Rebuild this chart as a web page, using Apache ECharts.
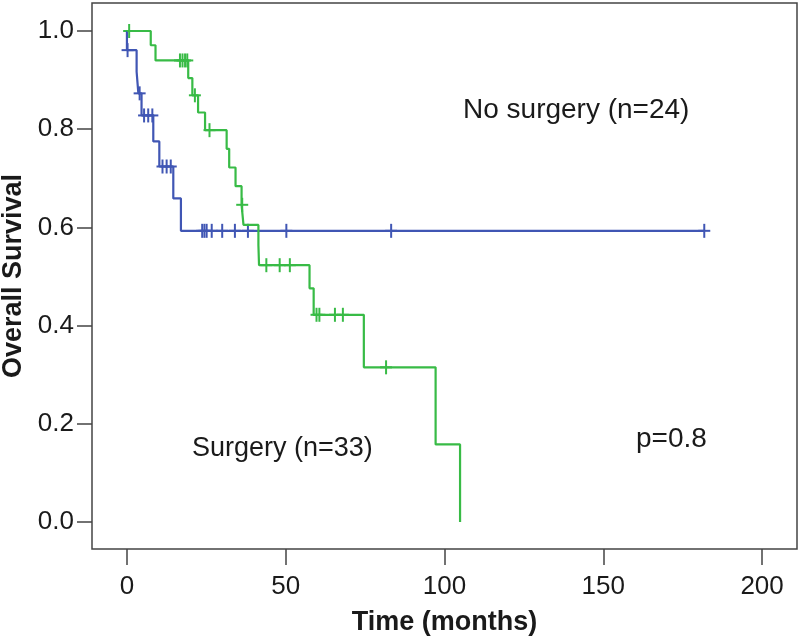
<!DOCTYPE html>
<html>
<head>
<meta charset="utf-8">
<script src="https://cdn.jsdelivr.net/npm/echarts@6/dist/echarts.min.js"></script>
<style>
html,body{margin:0;padding:0;background:#fff;}
#chart{width:800px;height:641px;}
</style>
</head>
<body>
<div id="chart"></div>
<script>
// ---- Data ----
var xTicks = [0, 50, 100, 150, 200];
var yTicks = [0, 0.2, 0.4, 0.6, 0.8, 1.0];

// Blue curve: No surgery (n=24) – event times (months) and survival after each step
var blueTimes = [0, 0, 3.05, 3.6, 4.6, 8.3, 10.2, 14.6, 17.0, 182.0];
var blueSurv  = [1.0, 0.961, 0.917, 0.873, 0.828, 0.775, 0.724, 0.659, 0.593, 0.593];
// Blue censored observations
var blueCensorTimes = [0.2, 4.0, 5.4, 6.7, 8.0, 11.2, 12.5, 13.8, 23.7, 24.4, 25.1, 26.7, 30.0, 34.0, 38.1, 50.2, 83.2, 181.8];
var blueCensorSurv  = [0.961, 0.873, 0.828, 0.828, 0.828, 0.724, 0.724, 0.724, 0.593, 0.593, 0.593, 0.593, 0.593, 0.593, 0.593, 0.593, 0.593, 0.593];

// Green curve: Surgery (n=33)
var greenTimes = [0, 7.5, 9.0, 19.3, 20.6, 22.4, 24.6, 31.4, 32.2, 34.2, 36.1, 36.7, 41.4, 41.6, 57.5, 58.8, 74.6, 97.2, 104.9];
var greenSurv  = [1.0, 0.971, 0.940, 0.904, 0.869, 0.834, 0.798, 0.760, 0.722, 0.684, 0.646, 0.605, 0.564, 0.523, 0.476, 0.422, 0.315, 0.158, 0.0];
// Green censored observations
var greenCensorTimes = [0.7, 16.7, 17.5, 18.3, 19.0, 21.4, 26.0, 36.3, 43.9, 48.1, 51.3, 59.7, 60.6, 65.5, 68.0, 81.6];
var greenCensorSurv  = [1.0, 0.940, 0.940, 0.940, 0.940, 0.869, 0.798, 0.646, 0.523, 0.523, 0.523, 0.422, 0.422, 0.422, 0.422, 0.315];

var labelNoSurgery = 'No surgery (n=24)';
var labelSurgery = 'Surgery (n=33)';
var labelP = 'p=0.8';

// ---- Build chart ----
var FONT = "'Liberation Sans', Arial, sans-serif";
var BLUE = '#4056b4';
var GREEN = '#38bb46';
var AXIS = '#444';
var TEXT = '#1a1a1a';

function zip(a, b) { return a.map(function (v, i) { return [v, b[i]]; }); }

function censorRenderer(color) {
  return function (params, api) {
    var p = api.coord([api.value(0), api.value(1)]);
    return {
      type: 'group',
      children: [
        { type: 'line', shape: { x1: p[0], y1: p[1] - 7, x2: p[0], y2: p[1] + 7 }, style: { stroke: color, lineWidth: 2 } },
        { type: 'line', shape: { x1: p[0] - 6, y1: p[1], x2: p[0] + 6, y2: p[1] }, style: { stroke: color, lineWidth: 2 } }
      ]
    };
  };
}

var chart = echarts.init(document.getElementById('chart'), null, { renderer: 'canvas' });
chart.setOption({
  animation: false,
  backgroundColor: '#fff',
  textStyle: { fontFamily: FONT },
  grid: { left: 92, right: 3, top: 3, bottom: 92, containLabel: false, outerBoundsMode: 'none',
          show: true, borderColor: AXIS, borderWidth: 1.5, backgroundColor: 'transparent' },
  xAxis: {
    type: 'value', min: -11, max: 211,
    axisLine: { show: false, onZero: false },
    splitLine: { show: false },
    axisTick: { show: true, inside: false, length: 16, customValues: xTicks, lineStyle: { color: AXIS, width: 1.5 } },
    axisLabel: { customValues: xTicks, fontSize: 26, color: TEXT, margin: 25, fontFamily: FONT },
    name: 'Time (months)', nameLocation: 'middle', nameGap: 60,
    nameTextStyle: { fontSize: 27, fontWeight: 'bold', color: TEXT, fontFamily: FONT }
  },
  yAxis: {
    type: 'value', min: -0.055, max: 1.057,
    axisLine: { show: false, onZero: false },
    splitLine: { show: false },
    axisTick: { show: true, inside: false, length: 15, customValues: yTicks, lineStyle: { color: AXIS, width: 1.5 } },
    axisLabel: { customValues: yTicks, fontSize: 26, color: TEXT, margin: 18, fontFamily: FONT,
      formatter: function (v) { return Number(v).toFixed(1); } },
    name: 'Overall Survival', nameLocation: 'middle', nameGap: 58, nameRotate: 90,
    nameTextStyle: { fontSize: 27, fontWeight: 'bold', color: TEXT, fontFamily: FONT }
  },
  series: [
    { type: 'line', step: 'end', data: zip(blueTimes, blueSurv), symbol: 'none', lineStyle: { color: BLUE, width: 2.2 }, itemStyle: { color: BLUE }, silent: true },
    { type: 'line', step: 'end', data: zip(greenTimes, greenSurv), symbol: 'none', lineStyle: { color: GREEN, width: 2.2 }, itemStyle: { color: GREEN }, silent: true },
    { type: 'custom', data: zip(blueCensorTimes, blueCensorSurv), renderItem: censorRenderer(BLUE), silent: true },
    { type: 'custom', data: zip(greenCensorTimes, greenCensorSurv), renderItem: censorRenderer(GREEN), silent: true }
  ],
  graphic: [
    { type: 'text', left: 463, top: 96, style: { text: labelNoSurgery, font: '28px ' + FONT, fill: TEXT } },
    { type: 'text', left: 192, top: 435, style: { text: labelSurgery, font: '27px ' + FONT, fill: TEXT } },
    { type: 'text', left: 636, top: 425, style: { text: labelP, font: '28px ' + FONT, fill: TEXT } }
  ]
});
</script>
</body>
</html>
